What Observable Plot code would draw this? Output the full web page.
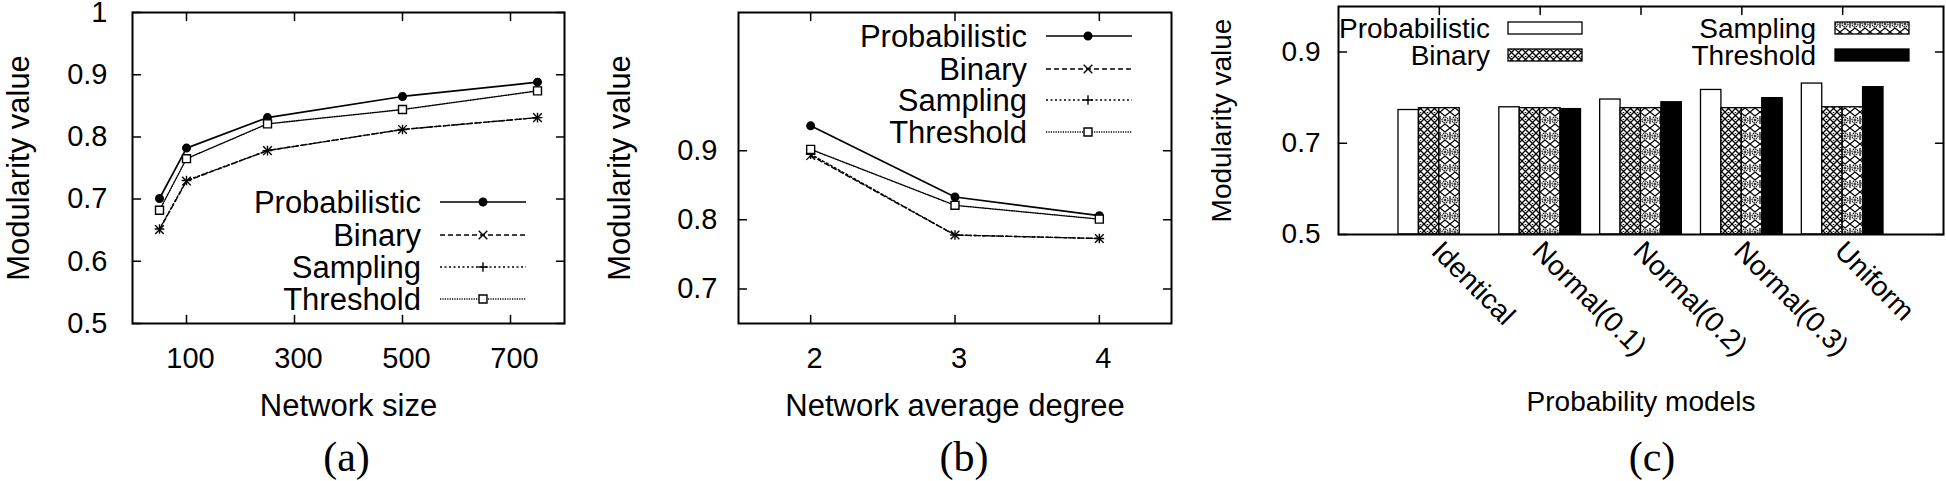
<!DOCTYPE html>
<html>
<head>
<meta charset="utf-8">
<script src="https://cdn.jsdelivr.net/npm/d3@7"></script>
<script src="https://cdn.jsdelivr.net/npm/@observablehq/plot@0.6"></script>
<style>
  html, body { margin: 0; padding: 0; background: #fff; }
  #chart { position: relative; width: 1946px; height: 481px; background: #fff; overflow: hidden; }
  #chart svg { position: absolute; top: 0; overflow: visible; }
</style>
</head>
<body>
<div id="chart"></div>
<script>
// ---------------- DATA ----------------
const methods = ["Probabilistic", "Binary", "Sampling", "Threshold"];
const yAxisLabel = "Modularity value";

// Panel (a): network size
const networkSizes = [50, 100, 250, 500, 750];
const aProbabilistic = [0.701, 0.782, 0.831, 0.865, 0.888];
const aBinary        = [0.651, 0.729, 0.778, 0.812, 0.831];
const aSampling      = [0.652, 0.730, 0.778, 0.812, 0.831];
const aThreshold     = [0.682, 0.765, 0.821, 0.844, 0.874];
const aXTicks = [100, 300, 500, 700];
const aYTicks = [0.5, 0.6, 0.7, 0.8, 0.9, 1];
const aXDomain = [0, 800];
const aYDomain = [0.5, 1];
const aXLabel = "Network size";

// Panel (b): network average degree
const avgDegrees = [2, 3, 4];
const bProbabilistic = [0.936, 0.833, 0.806];
const bBinary        = [0.893, 0.778, 0.773];
const bSampling      = [0.895, 0.778, 0.773];
const bThreshold     = [0.902, 0.821, 0.801];
const bXTicks = [2, 3, 4];
const bYTicks = [0.7, 0.8, 0.9];
const bXDomain = [1.5, 4.5];
const bYDomain = [0.65, 1.1];
const bXLabel = "Network average degree";

// Panel (c): probability models
const models = ["Identical", "Normal(0.1)", "Normal(0.2)", "Normal(0.3)", "Uniform"];
const cProbabilistic = [0.773, 0.779, 0.796, 0.817, 0.831];
const cBinary        = [0.777, 0.777, 0.777, 0.777, 0.779];
const cSampling      = [0.777, 0.777, 0.777, 0.777, 0.779];
const cThreshold     = [null, 0.775, 0.790, 0.799, 0.823];
const cYTicks = [0.5, 0.7, 0.9];
const cYDomain = [0.5, 1];
const cXLabel = "Probability models";

const captions = ["(a)", "(b)", "(c)"];

// ---------------- STYLES ----------------
const FONT = "'Liberation Sans', Arial, Helvetica, sans-serif";
const SERIF = "'Liberation Serif', 'Times New Roman', serif";
const lineStyles = {
  Probabilistic: {dash: null, width: 1.7, symbol: "circle", d3sym: d3.symbolCircle, r: 3.8, fill: "black", stroke: "black"},
  Binary:        {dash: "5,3", width: 1.4, symbol: "times", d3sym: d3.symbolTimes, r: 4, fill: "none", stroke: "black"},
  Sampling:      {dash: "2,2.5", width: 1.4, symbol: "plus", d3sym: d3.symbolPlus, r: 3.2, fill: "none", stroke: "black"},
  Threshold:     {dash: "1.2,1.2", width: 1.4, symbol: "square", d3sym: d3.symbolSquare, r: 4.5, fill: "white", stroke: "black"}
};
const barFills = {
  Probabilistic: "white",
  Binary: "url(#patBinary)",
  Sampling: "url(#patSampling)",
  Threshold: "black"
};

const tickShape = {draw(ctx, l) { ctx.moveTo(0, 0); ctx.lineTo(0, -l); }};

function inwardTicks(xTicks, yTicks) {
  const o = {length: 8, anchor: "start", shape: tickShape, stroke: "black", strokeWidth: 1.5};
  return [
    Plot.vectorX(xTicks, {...o, x: d => d, frameAnchor: "bottom", rotate: 0}),
    Plot.vectorX(xTicks, {...o, x: d => d, frameAnchor: "top", rotate: 180}),
    Plot.vectorY(yTicks, {...o, y: d => d, frameAnchor: "left", rotate: 90}),
    Plot.vectorY(yTicks, {...o, y: d => d, frameAnchor: "right", rotate: -90})
  ];
}

function longRows(xs, series) {
  return methods.flatMap((m, i) => xs.map((x, j) => ({method: m, x, y: series[i][j]})));
}

function linePanel(cfg) {
  const rows = longRows(cfg.xs, cfg.series);
  return Plot.plot({
    width: cfg.width, height: 481,
    marginLeft: cfg.ml, marginRight: cfg.mr, marginTop: 12, marginBottom: 158,
    x: {domain: cfg.xDomain},
    y: {domain: cfg.yDomain},
    style: {fontFamily: FONT, background: "transparent", color: "black"},
    marks: [
      ...inwardTicks(cfg.xTicks, cfg.yTicks),
      ...methods.map(m => Plot.lineY(rows.filter(d => d.method === m), {
        x: "x", y: "y", stroke: "black",
        strokeWidth: lineStyles[m].width, strokeDasharray: lineStyles[m].dash
      })),
      ...methods.map(m => Plot.dot(rows.filter(d => d.method === m), {
        x: "x", y: "y", symbol: lineStyles[m].symbol, r: lineStyles[m].r,
        fill: lineStyles[m].fill, stroke: lineStyles[m].stroke, strokeWidth: 1.4
      })),
      Plot.frame({stroke: "black", strokeWidth: 2}),
      Plot.axisX(cfg.xTicks, {tickSize: 0, tickPadding: 24, fontSize: 29, dx: 4, label: null, tickFormat: d => `${d}`}),
      Plot.axisY(cfg.yTicks, {tickSize: 0, tickPadding: cfg.yPad, fontSize: 29, label: null, tickFormat: d => `${d}`}),
      Plot.text([cfg.xLabel], {text: d => d, frameAnchor: "bottom", textAnchor: "middle", dy: 83, fontSize: 31, lineAnchor: "middle"}),
      Plot.text([yAxisLabel], {text: d => d, frameAnchor: "left", textAnchor: "middle", dx: cfg.ylDx, rotate: -90, fontSize: 31, lineAnchor: "middle"}),
      Plot.text([cfg.caption], {text: d => d, frameAnchor: "bottom", textAnchor: "middle", dy: 134, dx: cfg.capDx, fontSize: 42, fontFamily: SERIF, lineAnchor: "middle"})
    ]
  });
}

function lineLegend(svg, L) {
  const g = d3.select(svg).append("g").attr("font-family", FONT).attr("font-size", L.fontSize).attr("fill", "black");
  methods.forEach((m, i) => {
    const st = lineStyles[m];
    const y = L.rows[i];
    g.append("text").attr("x", L.textRight).attr("y", y).attr("dy", "0.35em")
      .attr("text-anchor", "end").text(m);
    g.append("line").attr("x1", L.x1).attr("x2", L.x2).attr("y1", y).attr("y2", y)
      .attr("stroke", "black").attr("stroke-width", st.width)
      .attr("stroke-dasharray", st.dash);
    g.append("path").attr("transform", `translate(${L.marker},${y})`)
      .attr("d", d3.symbol(st.d3sym, Math.PI * st.r * st.r)())
      .attr("fill", st.fill).attr("stroke", st.stroke).attr("stroke-width", 1.4);
  });
}

const chart = document.getElementById("chart");

// ---------------- Panel (a) ----------------
const svgA = linePanel({
  width: 600, ml: 132, mr: 36,
  xs: networkSizes, series: [aProbabilistic, aBinary, aSampling, aThreshold],
  xDomain: aXDomain, yDomain: aYDomain, xTicks: aXTicks, yTicks: aYTicks,
  xLabel: aXLabel, caption: captions[0], yPad: 25, ylDx: -113, capDx: -2
});
svgA.style.left = "0px";
chart.appendChild(svgA);
lineLegend(svgA, {fontSize: 31, textRight: 421, x1: 440, x2: 526, marker: 483, rows: [202, 235, 267, 299]});

// ---------------- Panel (b) ----------------
const svgB = linePanel({
  width: 600, ml: 138, mr: 29,
  xs: avgDegrees, series: [bProbabilistic, bBinary, bSampling, bThreshold],
  xDomain: bXDomain, yDomain: bYDomain, xTicks: bXTicks, yTicks: bYTicks,
  xLabel: bXLabel, caption: captions[1], yPad: 21, ylDx: -118, capDx: 9
});
svgB.style.left = "600px";
chart.appendChild(svgB);
lineLegend(svgB, {fontSize: 31, textRight: 427, x1: 446, x2: 532, marker: 488, rows: [36, 69, 100, 132]});

// ---------------- Panel (c) ----------------
const cSeries = [cProbabilistic, cBinary, cSampling, cThreshold];
const cRows = methods.flatMap((m, i) => models.map((model, j) => ({method: m, model, y: cSeries[i][j]})))
  .filter(d => d.y != null);
const bandPadInner = 0.19;
const cWidth = 746, cMl = 138, cMr = 3;
const cStep = (cWidth - cMl - cMr) / (models.length - bandPadInner + 2 * ((1 + bandPadInner) / 2));
const subBand = cStep * (1 - bandPadInner) / methods.length;

const svgC = Plot.plot({
  width: cWidth, height: 481,
  marginLeft: cMl, marginRight: cMr, marginTop: 6, marginBottom: 247,
  x: {type: "band", domain: models, paddingInner: bandPadInner, paddingOuter: (1 + bandPadInner) / 2, round: false},
  y: {domain: cYDomain},
  style: {fontFamily: FONT, background: "transparent", color: "black"},
  marks: [
    ...inwardTicks(models, cYTicks),
    ...methods.map((m, k) => Plot.barY(cRows.filter(d => d.method === m), {
      x: "model", y1: cYDomain[0], y2: "y",
      fill: barFills[m], stroke: "black", strokeWidth: 1.3,
      insetLeft: k * subBand, insetRight: (methods.length - 1 - k) * subBand
    })),
    Plot.frame({stroke: "black", strokeWidth: 2}),
    Plot.axisX({tickSize: 0, tickRotate: 45, tickPadding: 12, dx: -3, fontSize: 28, label: null}),
    Plot.axisY(cYTicks, {tickSize: 0, tickPadding: 18, fontSize: 28, label: null, tickFormat: d => `${d}`}),
    Plot.text([cXLabel], {text: d => d, frameAnchor: "bottom", textAnchor: "middle", dy: 168, fontSize: 28, lineAnchor: "middle"}),
    Plot.text([yAxisLabel], {text: d => d, frameAnchor: "left", textAnchor: "middle", dx: -116, rotate: -90, fontSize: 28, lineAnchor: "middle"}),
    Plot.text([captions[2]], {text: d => d, frameAnchor: "bottom", textAnchor: "middle", dy: 223, dx: 11, fontSize: 42, fontFamily: SERIF, lineAnchor: "middle"})
  ]
});
svgC.style.left = "1200px";
chart.appendChild(svgC);

// patterns for hatched bars
(function addPatterns(svg) {
  const defs = d3.select(svg).insert("defs", ":first-child");
  const pb = defs.append("pattern").attr("id", "patBinary").attr("patternUnits", "userSpaceOnUse")
    .attr("width", 7).attr("height", 7);
  pb.append("rect").attr("width", 7).attr("height", 7).attr("fill", "white");
  pb.append("path").attr("d", "M0,0L7,7M7,0L0,7").attr("stroke", "black").attr("stroke-width", 1.3);
  pb.append("circle").attr("cx", 3.5).attr("cy", 0).attr("r", 0.9).attr("fill", "black");

  const ps = defs.append("pattern").attr("id", "patSampling").attr("patternUnits", "userSpaceOnUse")
    .attr("width", 10).attr("height", 16);
  ps.append("rect").attr("width", 10).attr("height", 16).attr("fill", "white");
  ps.append("path").attr("d", "M0,0L5,4M10,0L5,4M0,16L5,12M10,16L5,12M0,4L0,12M10,4L10,12")
    .attr("stroke", "black").attr("stroke-width", 1.2).attr("fill", "none");
  ps.append("circle").attr("cx", 5).attr("cy", 8).attr("r", 3).attr("stroke", "black")
    .attr("stroke-width", 1.1).attr("stroke-dasharray", "1.6,0.7").attr("fill", "none");
  ps.append("path").attr("d", "M5,6.5V9.5M3.5,8H6.5").attr("stroke", "black").attr("stroke-width", 1);
})(svgC);

// legend for panel (c)
(function barLegend(svg) {
  const g = d3.select(svg).append("g").attr("font-family", FONT).attr("font-size", 28).attr("fill", "black");
  const cols = [{textRight: 290, x: 308}, {textRight: 616, x: 635}];
  const rows = [28, 55];
  methods.forEach((m, i) => {
    const col = cols[Math.floor(i / 2)], y = rows[i % 2];
    g.append("text").attr("x", col.textRight).attr("y", y).attr("dy", "0.35em")
      .attr("text-anchor", "end").text(m);
    g.append("rect").attr("x", col.x).attr("y", y - 6).attr("width", 74).attr("height", 12)
      .attr("fill", barFills[m]).attr("stroke", "black").attr("stroke-width", 1.3);
  });
})(svgC);
</script>
</body>
</html>
